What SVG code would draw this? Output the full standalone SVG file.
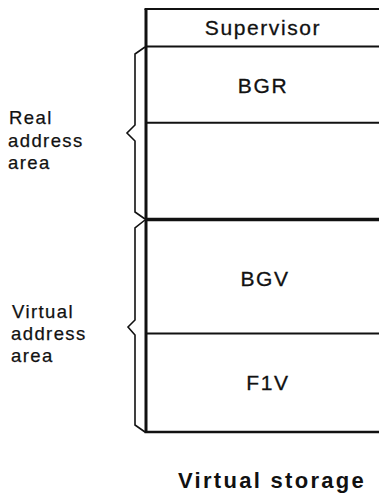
<svg xmlns="http://www.w3.org/2000/svg" width="379" height="496" viewBox="0 0 379 496">
<style>
.t{font-family:"Liberation Sans",Arial,sans-serif;font-size:21px;fill:#111;letter-spacing:1.6px;stroke:#111;stroke-width:0.3}
.l{font-family:"Liberation Sans",Arial,sans-serif;font-size:18.5px;fill:#111;letter-spacing:1.4px;stroke:#111;stroke-width:0.25}
.b{font-family:"Liberation Sans",Arial,sans-serif;font-size:22px;font-weight:bold;fill:#111;letter-spacing:2.3px}
.ln{stroke:#111;fill:none}
.br{stroke:#111;fill:none;stroke-width:1.6;stroke-linejoin:miter}
</style>
<rect width="379" height="496" fill="#fff"/>
<g id="frame">
<line class="ln" x1="146" y1="9" x2="146" y2="432.5" stroke-width="3"/>
<line class="ln" x1="144.5" y1="9" x2="379" y2="9" stroke-width="2.2"/>
<line class="ln" x1="146" y1="46.5" x2="379" y2="46.5" stroke-width="2"/>
<line class="ln" x1="146" y1="122.7" x2="379" y2="122.7" stroke-width="2"/>
<line class="ln" x1="146" y1="219.5" x2="379" y2="219.5" stroke-width="3.5"/>
<line class="ln" x1="146" y1="333.5" x2="379" y2="333.5" stroke-width="2"/>
<line class="ln" x1="144.5" y1="432" x2="379" y2="432" stroke-width="2.5"/>
</g>
<g id="supervisor"><text class="t" x="263" y="35" text-anchor="middle">Supervisor</text></g>
<g id="bgr"><text class="t" x="263" y="93" text-anchor="middle">BGR</text></g>
<g id="real-free"></g>
<g id="bgv"><text class="t" x="265" y="286" text-anchor="middle">BGV</text></g>
<g id="f1v"><text class="t" x="268" y="390" text-anchor="middle">F1V</text></g>
<g id="connectors">
<path class="br" d="M145,47 L135,54 L135,125 L127,133 L135,141 L135,212 L145,219"/>
<path class="br" d="M145,220 L135,228 L135,320 L128,327 L135,335 L135,425 L145,432"/>
</g>
<g id="real-label">
<text class="l" x="9" y="124">Real</text>
<text class="l" x="8" y="147">address</text>
<text class="l" x="8" y="169">area</text>
</g>
<g id="virtual-label">
<text class="l" x="12" y="318">Virtual</text>
<text class="l" x="11" y="340">address</text>
<text class="l" x="11" y="362">area</text>
</g>
<g id="title"><text class="b" x="272" y="488" text-anchor="middle">Virtual storage</text></g>
</svg>
